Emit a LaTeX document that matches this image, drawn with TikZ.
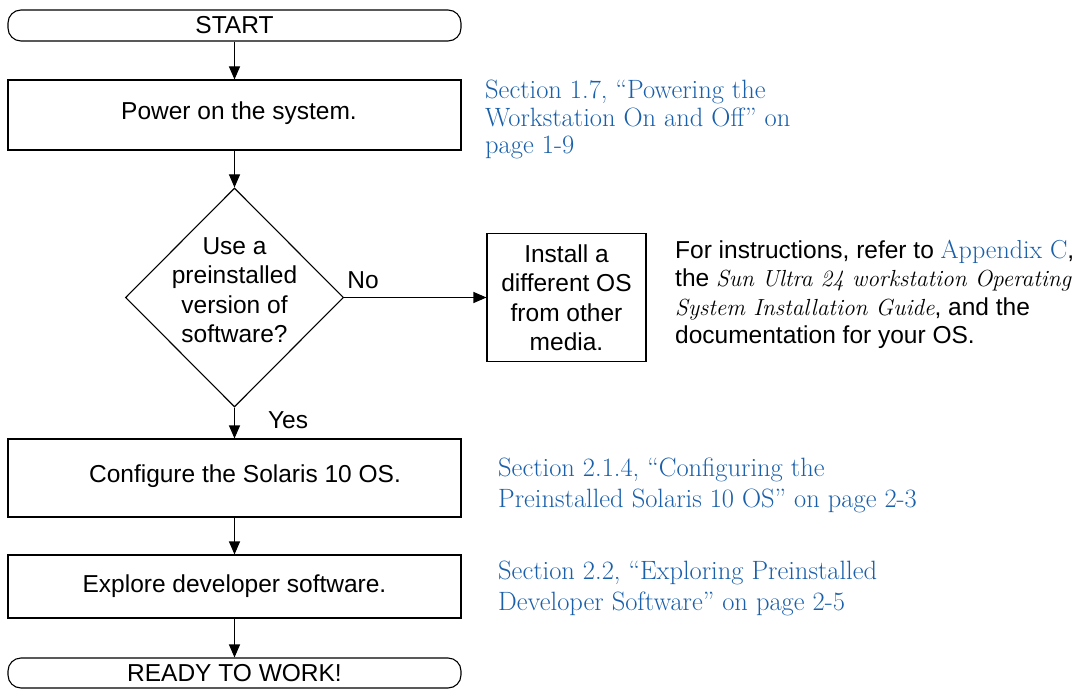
\documentclass[tikz,border=0pt]{standalone}
\usepackage{fontspec}
\newfontfamily\hv{Liberation Sans}
\usetikzlibrary{shapes.geometric,arrows.meta}
\definecolor{linkblue}{RGB}{25,95,170}
\begin{document}
\begin{tikzpicture}[x=1pt,y=-1pt,
  sans/.style={font=\hv\fontsize{24.5}{29.5}\selectfont},
  box/.style={draw, line width=1.1pt, sans, minimum width=453pt, inner sep=0pt, align=center},
  term/.style={box, rounded corners=13pt, minimum height=31pt},
  decision/.style={draw, line width=1.1pt, diamond, minimum width=218pt, minimum height=219pt, inner sep=0pt},
  arr/.style={-{Triangle[width=11pt,length=13pt]}, line width=1.1pt},
  link/.style={text=linkblue, font=\rmfamily\fontsize{26.5}{27.5}\selectfont\addfontfeature{FakeBold=0.4}, align=left, anchor=west, inner sep=0pt},
  lbl/.style={sans, inner sep=0pt}]
\useasboundingbox (0,0) rectangle (1086,690);

\node[term] (start) at (234.5,25.5) {START};
\node[box, minimum height=70pt] (power) at (234.5,115) {};
\node[lbl] (powertxt) at (239,113) {Power on the system.};
\node[decision] (dec) at (234.5,297.5) {};
\node[sans, align=center, inner sep=0pt] (dectxt) at (234.5,290) {Use a\\preinstalled\\version of\\software?};
\node[box, minimum width=159pt, minimum height=128pt] (install) at (566.5,297.5) {Install a\\different OS\\from other\\media.};
\node[box, minimum height=78pt] (config) at (234.5,478) {};
\node[lbl] (configtxt) at (245,476) {Configure the Solaris 10 OS.};
\node[box, minimum height=63pt] (explore) at (234.5,586.5) {Explore developer software.};
\node[term, minimum height=30pt] (ready) at (234.5,673) {READY TO WORK!};

\draw[arr] (start) -- (power);
\draw[arr] (power) -- (dec);
\draw[arr] (dec.east) -- (dec.east -| install.west);
\draw[arr] (dec.south) -- (config);
\draw[arr] (config) -- (explore);
\draw[arr] (explore) -- (ready);

\node[lbl] (no) at (363,280) {No};
\node[lbl] (yes) at (288,420) {Yes};

\node[link] (ref1) at (485,119.5) {Section 1.7, ``Powering the\\Workstation On and Off'' on\\page 1-9};
\node[link, font=\rmfamily\fontsize{26.5}{31}\selectfont\addfontfeature{FakeBold=0.4}] (ref2) at (498,485.5) {Section 2.1.4, ``Configuring the\\Preinstalled Solaris 10 OS'' on page 2-3};
\node[link, font=\rmfamily\fontsize{26.5}{31}\selectfont\addfontfeature{FakeBold=0.4}] (ref3) at (498,588.5) {Section 2.2, ``Exploring Preinstalled\\Developer Software'' on page 2-5};

\node[font=\hv\fontsize{24.5}{28.5}\selectfont, align=left, anchor=west, inner sep=0pt] (instr) at (675,294.5)
 {For instructions, refer to {\rmfamily\fontsize{26}{28.5}\selectfont\addfontfeature{FakeBold=0.4}\color{linkblue}Appendix C},\\
  the {\rmfamily\itshape\fontsize{23.3}{28.5}\selectfont\addfontfeature{FakeBold=0.3}Sun Ultra 24 workstation Operating}\\
  {\rmfamily\itshape\fontsize{23.3}{28.5}\selectfont\addfontfeature{FakeBold=0.3}System Installation Guide}, and the\\
  documentation for your OS.};
\end{tikzpicture}
\end{document}
